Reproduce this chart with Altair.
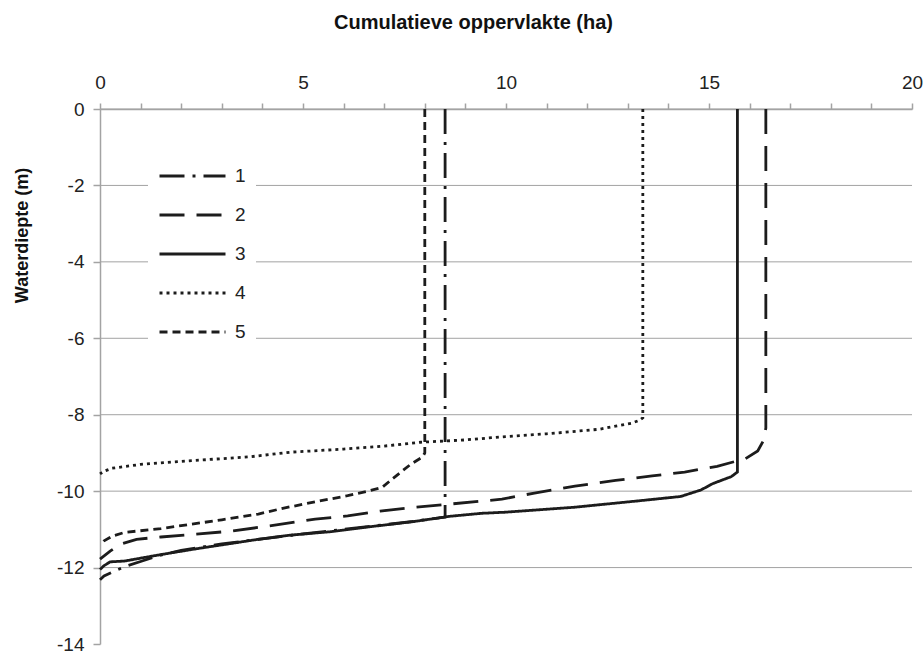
import altair as alt
import pandas as pd

# Cumulative area (ha) versus water depth (m) for five basins
S1_AREA = [8.5, 8.5, 7.5, 6.0, 5.0, 4.0, 3.0, 2.0, 1.4, 1.0, 0.6, 0.3, 0.1, 0.0]
S1_DEPTH = [0.0, -10.68, -10.82, -11.0, -11.12, -11.25, -11.38, -11.55, -11.7, -11.84, -11.98, -12.12, -12.22, -12.32]

S2_AREA = [16.4, 16.4, 16.33, 16.2, 15.9, 15.2, 14.4, 13.6, 12.7, 11.7, 10.7, 9.9, 8.6, 7.75,
           6.9, 6.1, 5.3, 4.75, 4.1, 3.2, 2.3, 1.5, 0.9, 0.5, 0.25, 0.0]
S2_DEPTH = [0.0, -8.35, -8.7, -8.95, -9.15, -9.35, -9.5, -9.6, -9.72, -9.87, -10.05, -10.21, -10.34, -10.42,
            -10.52, -10.65, -10.73, -10.82, -10.92, -11.05, -11.13, -11.2, -11.26, -11.39, -11.57, -11.78]

S3_AREA = [15.7, 15.7, 15.55, 15.1, 14.8, 14.3, 13.3, 11.7, 10.0, 9.4, 8.6, 7.7, 6.5, 5.7,
           4.7, 3.9, 3.1, 2.3, 1.5, 0.6, 0.25, 0.1, 0.0]
S3_DEPTH = [0.0, -9.5, -9.62, -9.8, -9.97, -10.14, -10.25, -10.42, -10.55, -10.58, -10.66, -10.8, -10.95, -11.06,
            -11.15, -11.26, -11.39, -11.52, -11.66, -11.83, -11.85, -11.95, -12.05]

S4_AREA = [13.37, 13.37, 13.3, 13.1, 12.3, 11.0, 9.9, 9.0, 7.9, 7.0, 6.0, 4.7, 3.7, 2.3, 1.0, 0.3, 0.1, 0.0]
S4_DEPTH = [0.0, -8.08, -8.14, -8.22, -8.38, -8.5, -8.58, -8.66, -8.72, -8.82, -8.9, -8.98, -9.1, -9.2, -9.3, -9.4, -9.48, -9.55]

S5_AREA = [8.0, 8.0, 7.95, 7.65, 7.2, 6.95, 6.6, 6.1, 5.3, 4.5, 3.9, 3.0, 1.5, 0.6, 0.3, 0.1, 0.0]
S5_DEPTH = [0.0, -9.0, -9.1, -9.3, -9.68, -9.9, -10.0, -10.12, -10.28, -10.45, -10.6, -10.75, -10.98, -11.08, -11.18, -11.3, -11.4]

SERIES = ["1", "2", "3", "4", "5"]
DASHES = [[25, 8, 3, 8], [25, 12], [1, 0], [3, 4], [8, 5]]

X_TICKS = list(range(0, 21))
Y_TICKS = [0, -2, -4, -6, -8, -10, -12, -14]
GRID_DEPTHS = [0, -2, -4, -6, -8, -10, -12]

rows = []
for name, xs, ys in zip(SERIES,
                        [S1_AREA, S2_AREA, S3_AREA, S4_AREA, S5_AREA],
                        [S1_DEPTH, S2_DEPTH, S3_DEPTH, S4_DEPTH, S5_DEPTH]):
    for i, (a, d) in enumerate(zip(xs, ys)):
        rows.append({"serie": name, "opp": a, "diepte": d, "idx": i})
df = pd.DataFrame(rows)

FONT = "Liberation Sans"
GRAY = "#a3a3a3"
INK = "#1c1c1c"

x_scale = alt.Scale(domain=[0, 20], nice=False, zero=False)
y_scale = alt.Scale(domain=[-14, 0], nice=False, zero=False)

x_axis = alt.Axis(
    orient="top",
    values=X_TICKS,
    labelExpr="datum.value % 5 === 0 ? datum.label : ''",
    title="Cumulatieve oppervlakte (ha)",
    titleFont=FONT,
    titleFontSize=20,
    titleFontWeight="bold",
    titleColor="#111",
    titleX=373,
    titleY=-87,
    titleBaseline="middle",
    titleAlign="center",
    labelFont=FONT,
    labelFontSize=19,
    labelColor="#222",
    labelPadding=11,
    tickSize=6,
    tickColor=GRAY,
    tickWidth=1.5,
    domainColor=GRAY,
    domainWidth=1.5,
    grid=False,
    labelFlush=False,
    labelOverlap=False,
)

y_axis = alt.Axis(
    values=Y_TICKS,
    labelExpr="datum.value + ''",
    title="Waterdiepte (m)",
    titleFont=FONT,
    titleFontSize=18,
    titleFontWeight="bold",
    titleColor="#111",
    titleAngle=-90,
    titleX=-78,
    titleY=126,
    titleAlign="center",
    titleBaseline="middle",
    labelFont=FONT,
    labelFontSize=19,
    labelColor="#222",
    labelPadding=9,
    tickSize=7,
    tickColor=GRAY,
    tickWidth=1.5,
    domainColor=GRAY,
    domainWidth=1.5,
    grid=False,
    labelFlush=False,
    labelOverlap=False,
)

# horizontal reference lines every 2 m (none at the bottom edge)
grid = alt.Chart(pd.DataFrame({"g": GRID_DEPTHS})).mark_rule(
    color=GRAY, strokeWidth=1
).encode(y=alt.Y("g:Q", scale=y_scale, axis=y_axis))

lines = alt.Chart(df).mark_line(color=INK, strokeWidth=2.8).encode(
    x=alt.X("opp:Q", scale=x_scale, axis=x_axis),
    y=alt.Y("diepte:Q", scale=y_scale, axis=y_axis),
    strokeDash=alt.StrokeDash(
        "serie:N",
        scale=alt.Scale(domain=SERIES, range=DASHES),
        legend=alt.Legend(
            title=None,
            orient="none",
            legendX=48,
            legendY=48,
            fillColor="white",
            padding=10,
            symbolType="stroke",
            symbolSize=4356,
            symbolStrokeWidth=2.8,
            symbolStrokeColor=INK,
            clipHeight=18,
            rowPadding=20,
            labelFont=FONT,
            labelFontSize=19,
            labelColor="#222",
            labelOffset=8,
        ),
    ),
    order="idx:Q",
)

chart = (
    alt.layer(grid, lines)
    .properties(
        width=812,
        height=535,
        padding={"left": 100, "top": 109, "right": 11, "bottom": 12},
        autosize=alt.AutoSizeParams(type="none"),
        background="white",
    )
    .configure_view(stroke=None)
)

chart.save("out.html", embed_options={"renderer": "svg", "actions": False})
